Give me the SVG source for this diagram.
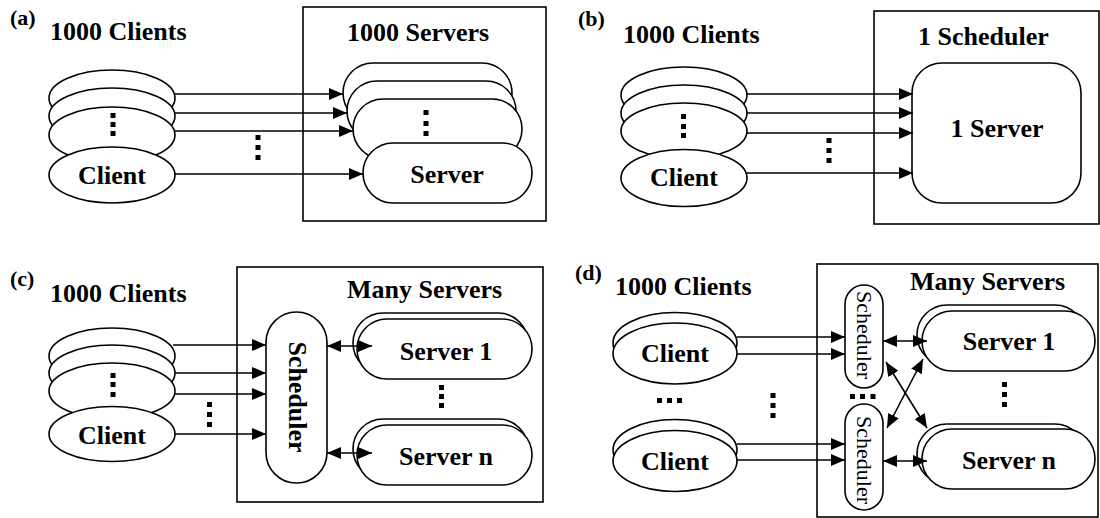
<svg xmlns="http://www.w3.org/2000/svg" width="1100" height="518" viewBox="0 0 1100 518">
<defs>
<marker id="ah" viewBox="0 0 14 12" refX="14" refY="6" markerWidth="14" markerHeight="12" markerUnits="userSpaceOnUse" orient="auto-start-reverse">
<path d="M0,0 L14,6 L0,12 Z" fill="#000"/>
</marker>
<style>
.s{fill:#fff;stroke:#000;stroke-width:1.6}
.box{fill:none;stroke:#000;stroke-width:1.6}
.t{font-family:"Liberation Serif","Times New Roman",serif;font-weight:bold;font-size:26px;fill:#000}
.lab{font-family:"Liberation Serif","Times New Roman",serif;font-weight:bold;font-size:22px;fill:#000}
.sm{font-family:"Liberation Serif","Times New Roman",serif;font-size:22px;fill:#000}
.c{text-anchor:middle}
.a{fill:none;stroke:#000;stroke-width:1.6;marker-end:url(#ah)}
.d{fill:none;stroke:#000;stroke-width:1.6;marker-end:url(#ah);marker-start:url(#ah)}
.dot{fill:#000}
</style>
</defs>
<rect width="1100" height="518" fill="#fff"/>

<!-- Panel (a) -->
<g id="panel-a">
<text class="lab" x="10" y="25">(a)</text>
<text class="t" x="50" y="40">1000 Clients</text>
<rect id="box-a" class="box" x="303" y="7" width="243" height="214"/>
<text class="t" x="347" y="41">1000 Servers</text>
</g>
<g id="clients-a">
<ellipse class="s" cx="112" cy="98" rx="63" ry="28"/>
<ellipse class="s" cx="112" cy="116" rx="63" ry="28"/>
<ellipse class="s" cx="112" cy="135" rx="63" ry="28"/>
<rect class="dot" x="110.5" y="113" width="5" height="5"/>
<rect class="dot" x="110.5" y="122" width="5" height="5"/>
<rect class="dot" x="110.5" y="131" width="5" height="5"/>
<ellipse class="s" cx="112" cy="175" rx="63" ry="28"/>
<text class="t c" x="112" y="184">Client</text>
</g>
<g id="servers-a">
<rect class="s" x="343" y="63" width="169" height="60" rx="30"/>
<rect class="s" x="347" y="81" width="169" height="60" rx="30"/>
<rect class="s" x="353" y="99" width="169" height="60" rx="30"/>
<rect class="dot" x="423.5" y="110" width="5" height="5"/>
<rect class="dot" x="423.5" y="121" width="5" height="5"/>
<rect class="dot" x="423.5" y="131" width="5" height="5"/>
<rect class="s" x="363" y="143" width="169" height="60" rx="30"/>
<text class="t c" x="447" y="183">Server</text>
</g>

<!-- Panel (b) -->
<g id="panel-b">
<text class="lab" x="578" y="26">(b)</text>
<text class="t" x="623" y="43">1000 Clients</text>
<rect id="box-b" class="box" x="874" y="11" width="225" height="213"/>
<text class="t" x="918" y="45">1 Scheduler</text>
</g>
<g id="clients-b">
<ellipse class="s" cx="684" cy="95" rx="63" ry="28"/>
<ellipse class="s" cx="684" cy="113" rx="63" ry="28"/>
<ellipse class="s" cx="684" cy="131" rx="63" ry="28"/>
<rect class="dot" x="681" y="114" width="5" height="5"/>
<rect class="dot" x="681" y="124" width="5" height="5"/>
<rect class="dot" x="681" y="133" width="5" height="5"/>
<ellipse class="s" cx="684" cy="178" rx="63" ry="28.5"/>
<text class="t c" x="684" y="186">Client</text>
</g>
<g id="server-b">
<rect class="s" x="912" y="63" width="169" height="140" rx="30"/>
<text class="t c" x="997" y="137">1 Server</text>
</g>

<!-- Panel (c) -->
<g id="panel-c">
<text class="lab" x="10" y="286">(c)</text>
<text class="t" x="50" y="302">1000 Clients</text>
<rect id="box-c" class="box" x="237" y="267" width="306" height="235"/>
<text class="t" x="347" y="298">Many Servers</text>
</g>
<g id="clients-c">
<ellipse class="s" cx="112" cy="356" rx="63" ry="28"/>
<ellipse class="s" cx="112" cy="373" rx="63" ry="28"/>
<ellipse class="s" cx="112" cy="391" rx="63" ry="28"/>
<rect class="dot" x="110.5" y="373" width="5" height="5"/>
<rect class="dot" x="110.5" y="382" width="5" height="5"/>
<rect class="dot" x="110.5" y="392" width="5" height="5"/>
<ellipse class="s" cx="112" cy="434" rx="63" ry="27.5"/>
<text class="t c" x="112" y="444">Client</text>
</g>
<g id="scheduler-c">
<rect class="s" x="266" y="312" width="61" height="171" rx="30.5"/>
<text class="t c" transform="translate(288.5,397) rotate(90)">Scheduler</text>
</g>
<g id="server1-c">
<rect class="s" x="353" y="313" width="175" height="60" rx="30"/>
<rect class="s" x="357" y="319" width="175" height="60" rx="30"/>
<text class="t c" x="446" y="360">Server 1</text>
</g>
<g id="servern-c">
<rect class="s" x="353" y="419" width="175" height="60" rx="30"/>
<rect class="s" x="357" y="425" width="175" height="60" rx="30"/>
<text class="t c" x="446" y="465">Server n</text>
</g>
<g id="dots-c">
<rect class="dot" x="439" y="385" width="5" height="5"/>
<rect class="dot" x="439" y="394" width="5" height="5"/>
<rect class="dot" x="439" y="403" width="5" height="5"/>
</g>

<!-- Panel (d) -->
<g id="panel-d">
<text class="lab" x="575" y="280">(d)</text>
<text class="t" x="615" y="295">1000 Clients</text>
<rect id="box-d" class="box" x="817" y="264" width="281" height="253"/>
<text class="t" x="910" y="290">Many Servers</text>
</g>
<g id="client1-d">
<ellipse class="s" cx="675" cy="343" rx="62" ry="30.5"/>
<ellipse class="s" cx="675" cy="353.5" rx="62" ry="30.5"/>
<text class="t c" x="675" y="362">Client</text>
</g>
<g id="client2-d">
<ellipse class="s" cx="675" cy="450" rx="62" ry="30.5"/>
<ellipse class="s" cx="675" cy="461" rx="62" ry="30.5"/>
<text class="t c" x="675" y="470">Client</text>
</g>
<g id="dots-d">
<rect class="dot" x="657" y="398" width="5" height="5"/>
<rect class="dot" x="667" y="398" width="5" height="5"/>
<rect class="dot" x="677" y="398" width="5" height="5"/>
<rect class="dot" x="770.5" y="393" width="5" height="5"/>
<rect class="dot" x="770.5" y="403" width="5" height="5"/>
<rect class="dot" x="770.5" y="413" width="5" height="5"/>
<rect class="dot" x="850" y="394" width="5" height="5"/>
<rect class="dot" x="860" y="394" width="5" height="5"/>
<rect class="dot" x="870.5" y="394" width="5" height="5"/>
<rect class="dot" x="1002" y="382" width="5" height="5"/>
<rect class="dot" x="1002" y="392" width="5" height="5"/>
<rect class="dot" x="1002" y="402" width="5" height="5"/>
</g>
<g id="scheduler1-d">
<rect class="s" x="845" y="285" width="38" height="103" rx="19"/>
<text class="sm c" transform="translate(857,335) rotate(90)">Scheduler</text>
</g>
<g id="scheduler2-d">
<rect class="s" x="845" y="404" width="38" height="106" rx="19"/>
<text class="sm c" transform="translate(857,460) rotate(90)">Scheduler</text>
</g>
<g id="server1-d">
<rect class="s" x="917" y="305" width="168" height="60" rx="30"/>
<rect class="s" x="922" y="311" width="173" height="60" rx="30"/>
<text class="t c" x="1009" y="350">Server 1</text>
</g>
<g id="servern-d">
<rect class="s" x="917" y="424" width="168" height="60" rx="30"/>
<rect class="s" x="922" y="429" width="173" height="60" rx="30"/>
<text class="t c" x="1009" y="469">Server n</text>
</g>

<!-- Connectors -->
<g id="connectors">
<!-- a -->
<line class="a" x1="175" y1="94" x2="343" y2="94"/>
<line class="a" x1="175" y1="113" x2="347" y2="113"/>
<line class="a" x1="175" y1="131" x2="353" y2="131"/>
<line class="a" x1="175" y1="174" x2="363" y2="174"/>
<!-- b -->
<line class="a" x1="747" y1="94" x2="913" y2="94"/>
<line class="a" x1="747" y1="113" x2="913" y2="113"/>
<line class="a" x1="747" y1="133" x2="913" y2="133"/>
<line class="a" x1="747" y1="173" x2="913" y2="173"/>
<!-- c -->
<line class="a" x1="173" y1="345" x2="266" y2="345"/>
<line class="a" x1="175" y1="373" x2="266" y2="373"/>
<line class="a" x1="175" y1="394" x2="266" y2="394"/>
<line class="a" x1="175" y1="434" x2="266" y2="434"/>
<line class="d" x1="327" y1="346" x2="372" y2="346"/>
<line class="d" x1="327" y1="453" x2="372" y2="453"/>
<!-- d -->
<line class="a" x1="737" y1="337" x2="845" y2="337"/>
<line class="a" x1="737" y1="354" x2="845" y2="354"/>
<line class="a" x1="737" y1="444" x2="845" y2="444"/>
<line class="a" x1="737" y1="460" x2="845" y2="460"/>
<line class="d" x1="883" y1="341" x2="927" y2="341"/>
<line class="d" x1="883" y1="461" x2="927" y2="461"/>
<line class="d" x1="886" y1="362" x2="927" y2="428"/>
<line class="d" x1="887" y1="428" x2="923" y2="359"/>
</g>
<g id="dots-a-b-c">
<rect class="dot" x="255.5" y="135" width="5" height="5"/>
<rect class="dot" x="255.5" y="145" width="5" height="5"/>
<rect class="dot" x="255.5" y="155" width="5" height="5"/>
<rect class="dot" x="826.5" y="138" width="5" height="5"/>
<rect class="dot" x="826.5" y="148" width="5" height="5"/>
<rect class="dot" x="826.5" y="158" width="5" height="5"/>
<rect class="dot" x="207" y="402" width="5" height="5"/>
<rect class="dot" x="207" y="412" width="5" height="5"/>
<rect class="dot" x="207" y="422" width="5" height="5"/>
</g>
</svg>
